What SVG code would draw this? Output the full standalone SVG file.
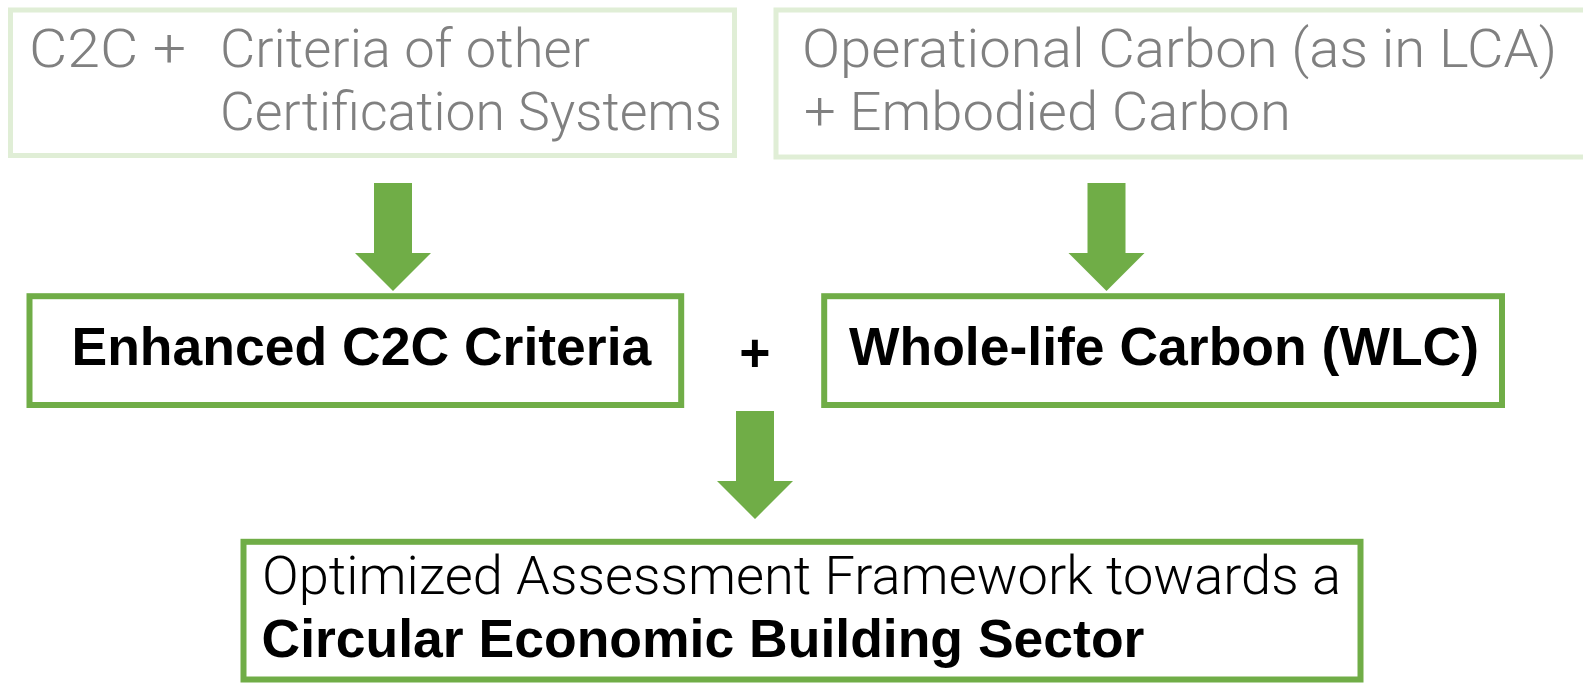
<svg xmlns="http://www.w3.org/2000/svg" width="1583" height="683" viewBox="0 0 1583 683">
  <style>
    .src { fill: #ffffff; stroke: #e0eed6; stroke-width: 5; }
    .box { fill: #ffffff; stroke: #70ad47; stroke-width: 6; }
    .light { font-family: Roboto, "Liberation Sans", sans-serif; font-weight: 300; font-size: 54px; fill: #808080; }
    .thin { font-family: Roboto, "Liberation Sans", sans-serif; font-weight: 300; font-size: 54px; fill: #000000; }
    .bold { font-family: "Liberation Sans", Arial, sans-serif; font-weight: bold; font-size: 53.5px; fill: #000000; }
    .arrow { fill: #70ad47; }
  </style>
  <defs>
    <!-- block arrow pointing down, tip at origin -->
    <path id="down-arrow" d="M -19 -108 H 19 V -38 H 38 L 0 0 L -38 -38 H -19 Z"/>
  </defs>
  <rect width="1583" height="683" fill="#ffffff"/>

  <g id="c2c-sources">
    <rect class="src" x="10.5" y="10" width="724" height="145.5"/>
    <text class="light" x="29" y="67" textLength="157" lengthAdjust="spacingAndGlyphs">C2C +</text>
    <text class="light" x="220" y="67" textLength="370" lengthAdjust="spacingAndGlyphs">Criteria of other</text>
    <text class="light" x="220" y="130" textLength="502" lengthAdjust="spacingAndGlyphs">Certification Systems</text>
  </g>

  <g id="carbon-sources">
    <rect class="src" x="776" y="10" width="830" height="147"/>
    <text class="light" x="802" y="67" textLength="755" lengthAdjust="spacingAndGlyphs">Operational Carbon (as in LCA)</text>
    <text class="light" x="804" y="130" textLength="487" lengthAdjust="spacingAndGlyphs">+ Embodied Carbon</text>
  </g>

  <g id="enhanced-c2c">
    <rect class="box" x="29.5" y="296.2" width="651.7" height="108.8"/>
    <text class="bold" x="71.5" y="365">Enhanced C2C Criteria</text>
  </g>

  <g id="plus">
    <text class="bold" x="754.8" y="370.5" text-anchor="middle">+</text>
  </g>

  <g id="wlc">
    <rect class="box" x="824.2" y="296.2" width="677.8" height="108.8"/>
    <text class="bold" x="849" y="365">Whole-life Carbon (WLC)</text>
  </g>

  <g id="framework">
    <rect class="box" x="243.5" y="541.8" width="1117" height="137.7"/>
    <text class="thin" x="262" y="594" textLength="1079" lengthAdjust="spacingAndGlyphs">Optimized Assessment Framework towards a</text>
    <text class="bold" x="261.5" y="657">Circular Economic Building Sector</text>
  </g>

  <g id="connectors" class="arrow">
    <use href="#down-arrow" x="393" y="291"/>
    <use href="#down-arrow" x="1106.5" y="291"/>
    <use href="#down-arrow" x="755" y="519"/>
  </g>
</svg>
